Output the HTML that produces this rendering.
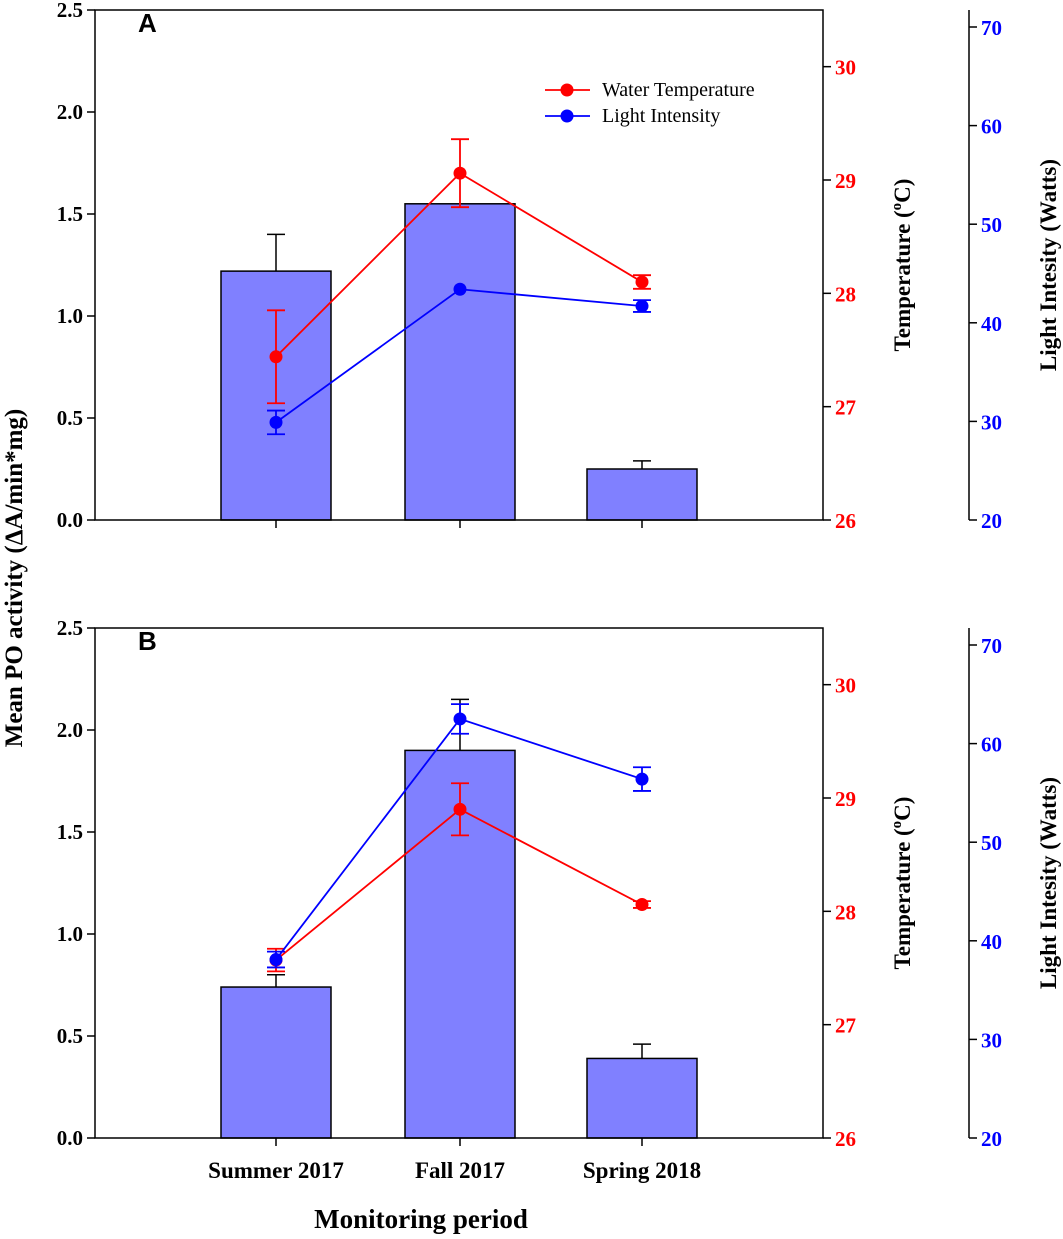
<!DOCTYPE html>
<html><head><meta charset="utf-8"><style>
body{margin:0;background:#fff}
svg text{font-family:"Liberation Serif",serif;font-weight:bold}
</style></head><body>
<svg id="c" width="1063" height="1234" xmlns="http://www.w3.org/2000/svg"></svg>
<script>
const categories=["Summer 2017","Fall 2017","Spring 2018"];
const barA=[1.22,1.55,0.25];
const barAErr=[0.18,0,0.04];
const tempA=[27.44,29.06,28.1];
const tempAErr=[0.41,0.3,0.06];
const lightA=[29.9,43.4,41.7];
const lightAErr=[1.2,0,0.6];
const barB=[0.74,1.90,0.39];
const barBErr=[0.06,0.25,0.07];
const tempB=[27.57,28.9,28.06];
const tempBErr=[0.1,0.23,0.03];
const lightB=[38.1,62.5,56.4];
const lightBErr=[0.8,1.5,1.2];
const leftTicks=["0.0","0.5","1.0","1.5","2.0","2.5"];
const tempTicks=[26,27,28,29,30];
const lightTicks=[20,30,40,50,60,70];
const NS="http://www.w3.org/2000/svg";
const svg=document.getElementById('c');
function el(t,a,txt){const e=document.createElementNS(NS,t);for(const k in a)e.setAttribute(k,a[k]);if(txt!==undefined)e.textContent=txt;svg.appendChild(e);return e;}
const X0=95,X1=823,XL=969;
const cx=[276,460,642];
function panel(top,bottom,letter,bars,bErr,temp,tErr,light,lErr,p){
 const yL=v=>bottom-(v/2.5)*(bottom-top);
 const yT=v=>bottom-(v-26)*(bottom-top)/4.5;
 const lTop=top+17;
 const yW=v=>bottom-(v-20)*(bottom-lTop)/50;
 bars.forEach((v,i)=>{
  const r=el('rect',{x:cx[i]-55,y:yL(v),width:110,height:bottom-yL(v),fill:'#8080ff',stroke:'#000','stroke-width':1.5});
  
  
  if(bErr[i]>0){
   const e=el('path',{d:`M${cx[i]} ${yL(v)}V${yL(v+bErr[i])}M${cx[i]-9} ${yL(v+bErr[i])}H${cx[i]+9}`,stroke:'#000','stroke-width':1.5,fill:'none'});
   
   
  }
 });
 const f=el('rect',{x:X0,y:top,width:X1-X0,height:bottom-top,fill:'none',stroke:'#000','stroke-width':1.5});
 
 
 leftTicks.forEach((t,i)=>{const y=yL(i*0.5);
  el('line',{x1:X0-8,x2:X0,y1:y,y2:y,stroke:'#000','stroke-width':1.5});
  const tx=el('text',{x:X0-12,y:y+7,'text-anchor':'end','font-size':21},t);
  
  });
 cx.forEach(x=>el('line',{x1:x,x2:x,y1:bottom,y2:bottom+8,stroke:'#000','stroke-width':1.5}));
 tempTicks.forEach(t=>{const y=yT(t);
  el('line',{x1:X1,x2:X1+8,y1:y,y2:y,stroke:'#000','stroke-width':1.5});
  const tx=el('text',{x:X1+12,y:y+8,'font-size':21,fill:'#ff0000'},t);
  
  });
 el('line',{x1:XL,x2:XL,y1:top,y2:bottom,stroke:'#000','stroke-width':1.5});
 lightTicks.forEach(t=>{const y=yW(t);
  el('line',{x1:XL,x2:XL+8,y1:y,y2:y,stroke:'#000','stroke-width':1.5});
  const tx=el('text',{x:XL+12,y:y+8,'font-size':21,fill:'#0000ff'},t);
  
  });
 const tl=el('text',{transform:`translate(910,${(top+bottom)/2}) rotate(-90)`,'text-anchor':'middle','font-size':23},'');
 tl.innerHTML='Temperature (<tspan font-size="15" dy="-9">o</tspan><tspan dy="9">C)</tspan>';
 
 
 const ll=el('text',{transform:`translate(1056,${(top+bottom)/2}) rotate(-90)`,'text-anchor':'middle','font-size':23},'Light Intesity (Watts)');
 
 
 const lt=el('text',{x:138,y:top+22,'font-size':26,style:'font-family:"Liberation Sans",sans-serif'},letter);
 
 
 function series(vals,errs,yf,col,name){
  const yv=vals.map(yf);
  const pl=el('polyline',{points:cx.map((x,i)=>x+','+yv[i]).join(' '),fill:'none',stroke:col,'stroke-width':1.8});
  
  
  vals.forEach((v,i)=>{
   if(errs[i]>0){const a=yf(v+errs[i]),b=yf(v-errs[i]);
    el('path',{d:`M${cx[i]} ${a}V${b}M${cx[i]-9} ${a}H${cx[i]+9}M${cx[i]-9} ${b}H${cx[i]+9}`,stroke:col,'stroke-width':1.8,fill:'none'});}
   const c=el('circle',{cx:cx[i],cy:yv[i],r:6.5,fill:col});
   
   
  });
 }
 series(temp,tErr,yT,'#ff0000','temperature');
 series(light,lErr,yW,'#0000ff','light');
}
panel(10,520,'A',barA,barAErr,tempA,tempAErr,lightA,lightAErr,'a');
panel(628,1138,'B',barB,barBErr,tempB,tempBErr,lightB,lightBErr,'b');
[[90,'#ff0000','Water Temperature'],[116,'#0000ff','Light Intensity']].forEach(([y,c,t])=>{
 el('line',{x1:545,x2:590,y1:y,y2:y,stroke:c,'stroke-width':1.8});
 el('circle',{cx:567,cy:y,r:6.5,fill:c});
 const tx=el('text',{x:602,y:y+6,'font-size':20,style:'font-weight:normal'},t);
 
 
});
categories.forEach((c,i)=>{const t=el('text',{x:cx[i],y:1178,'text-anchor':'middle','font-size':23},c);
 
 });
const xt=el('text',{x:421,y:1228,'text-anchor':'middle','font-size':27},'Monitoring period');


const yt=el('text',{transform:'translate(22,578) rotate(-90)','text-anchor':'middle','font-size':25},'Mean PO activity  (ΔA/min*mg)');


</script>
</body></html>
